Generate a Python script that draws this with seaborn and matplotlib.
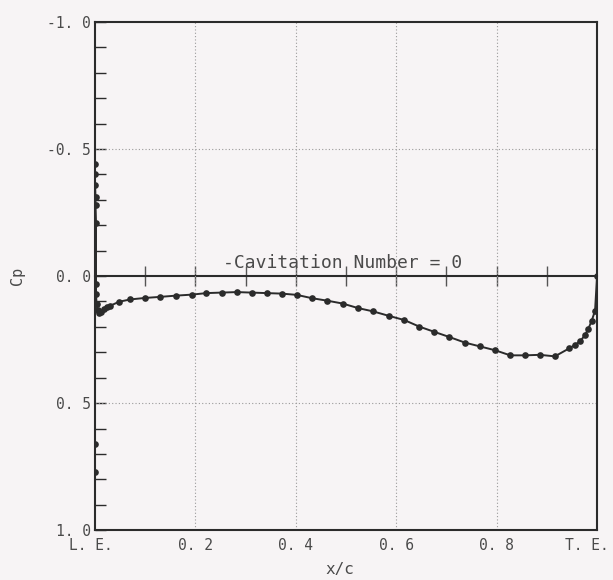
import numpy as np
import pandas as pd
import matplotlib
matplotlib.use("Agg")
import matplotlib.pyplot as plt
import matplotlib.transforms as mtransforms
from matplotlib.ticker import MultipleLocator, FixedLocator, NullFormatter
import seaborn as sns

# Pressure distribution along the chord (x/c from leading to trailing edge)
x_c = [0.000, 0.000, 0.000, 0.000, 0.000, 0.001, 0.001, 0.002, 0.002, 0.002,
       0.003, 0.005, 0.008, 0.012, 0.018, 0.024, 0.030, 0.048, 0.070, 0.100,
       0.129, 0.161, 0.193, 0.222, 0.252, 0.282, 0.312, 0.342, 0.372, 0.402,
       0.432, 0.463, 0.493, 0.524, 0.554, 0.586, 0.616, 0.646, 0.675, 0.706,
       0.737, 0.767, 0.797, 0.827, 0.857, 0.886, 0.916, 0.945, 0.957, 0.967,
       0.976, 0.982, 0.989, 0.996, 1.000]
cp = [0.77, 0.66, -0.44, -0.40, -0.36, -0.31, -0.28, -0.21, 0.03, 0.07,
      0.11, 0.135, 0.145, 0.14, 0.13, 0.123, 0.117, 0.101, 0.092, 0.086,
      0.082, 0.077, 0.073, 0.067, 0.065, 0.063, 0.065, 0.067, 0.069, 0.074,
      0.087, 0.097, 0.108, 0.126, 0.139, 0.157, 0.173, 0.199, 0.219, 0.240,
      0.262, 0.277, 0.292, 0.312, 0.312, 0.310, 0.316, 0.284, 0.270, 0.255,
      0.232, 0.210, 0.178, 0.136, 0.0]

x_ticks = [0.0, 0.2, 0.4, 0.6, 0.8, 1.0]
x_tick_labels = ["L. E.", "0. 2", "0. 4", "0. 6", "0. 8", "T. E."]
cp_ticks = [-1.0, -0.5, 0.0, 0.5, 1.0]
cp_tick_labels = ["-1. 0", "-0. 5", "0. 0", "0. 5", "1. 0"]
zero_line_ticks = [0.1, 0.2, 0.3, 0.4, 0.5, 0.6, 0.7, 0.8, 0.9]
series_label = "-Cavitation Number = 0"

sns.set_theme(style="white")
plt.rcParams["font.family"] = ["DejaVu Sans Mono", "DejaVu Sans"]

bg = "#f7f4f5"
ink = "#2b2b2b"
text_col = "#4a4a4a"

fig = plt.figure(figsize=(6.13, 5.80), dpi=100, facecolor=bg)
ax = fig.add_axes([0.155, 0.086, 0.819, 0.876])
ax.set_facecolor(bg)

# dotted reference grid
for gx in x_ticks[1:-1]:
    ax.axvline(gx, color="#9a9a9a", lw=0.8, ls=(0, (1, 2)), zorder=1)
for gy in [-0.5, 0.5]:
    ax.axhline(gy, color="#9a9a9a", lw=0.8, ls=(0, (1, 2)), zorder=1)

df = pd.DataFrame({"x/c": x_c, "Cp": cp})
sns.lineplot(data=df, x="x/c", y="Cp", sort=False, estimator=None,
             color=ink, lw=1.4, marker="o", markersize=4.8,
             markeredgewidth=0, ax=ax, zorder=3)

ax.set_xlim(0, 1)
ax.set_ylim(1, -1)

ax.set_xticks(x_ticks)
ax.set_xticklabels(x_tick_labels)
ax.set_yticks(cp_ticks)
ax.set_yticklabels(cp_tick_labels)
ax.yaxis.set_minor_locator(MultipleLocator(0.1))
ax.tick_params(axis="x", which="both", length=0, pad=6, labelsize=10.5,
               labelcolor=text_col)
ax.tick_params(axis="y", which="both", direction="in", length=8, width=1.0,
               color=ink, left=True, pad=3, labelsize=10.5, labelcolor=text_col)

# edge labels sit slightly inboard of the chord ends
xlabels = ax.get_xticklabels()
for lbl, dx in ((xlabels[0], -4), (xlabels[-1], -10)):
    lbl.set_transform(lbl.get_transform() +
                      mtransforms.ScaledTranslation(dx / 100, 0, fig.dpi_scale_trans))

for s in ax.spines.values():
    s.set_color(ink)
    s.set_linewidth(1.5)

# zero-pressure baseline with its own chordwise ticks
zero_ax = ax.secondary_xaxis(0.5)
zero_ax.xaxis.set_major_locator(FixedLocator(zero_line_ticks))
zero_ax.xaxis.set_major_formatter(NullFormatter())
zero_ax.tick_params(direction="inout", length=14, width=1.0, color="#555555")
for side in ("bottom", "top"):
    zero_ax.spines[side].set_color(ink)
    zero_ax.spines[side].set_linewidth(1.5)

ax.text(0.255, -0.015, series_label, ha="left", va="bottom",
        fontsize=13, color=text_col, zorder=4)

ax.set_xlabel("x/c", fontsize=11.5, color=text_col)
ax.set_ylabel("Cp", fontsize=11, color=text_col)
ax.xaxis.set_label_coords(0.488, -0.063)
ax.yaxis.set_label_coords(-0.14, 0.5)

fig.savefig("out.png", dpi=100, facecolor=bg)
